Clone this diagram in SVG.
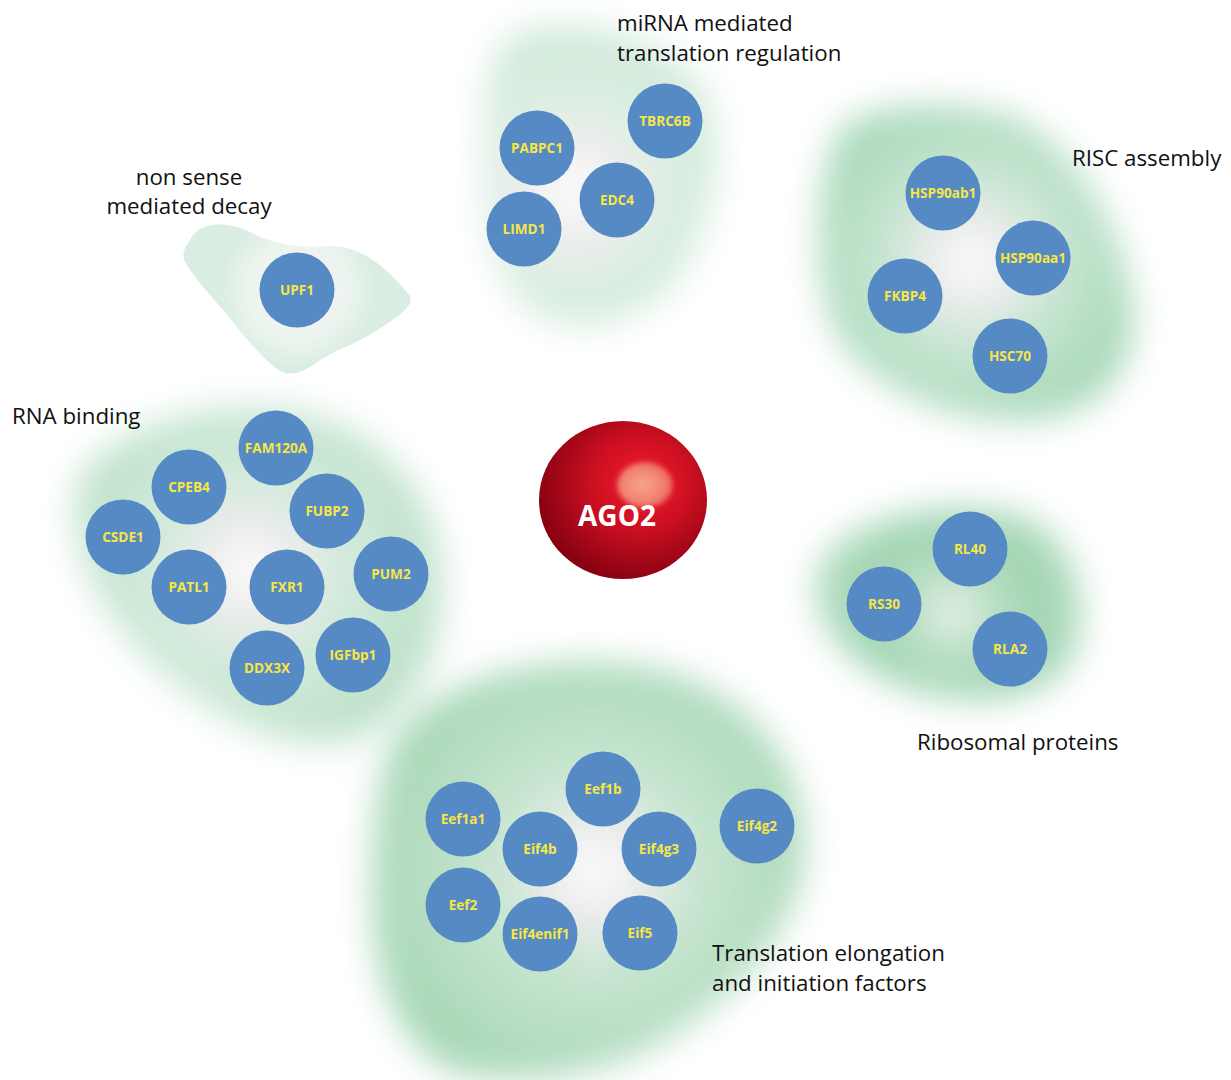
<svg xmlns="http://www.w3.org/2000/svg" width="1231" height="1080" viewBox="0 0 1231 1080">
<defs>
<style>
.lbl{font-family:"Open Sans","Liberation Sans",sans-serif;font-size:22.3px;fill:#111}
.n{fill:#558ac4}
.nt{font-family:"Open Sans","Liberation Sans",sans-serif;font-size:13.6px;font-weight:700;fill:#f7e646;text-anchor:middle}
</style>
<filter id="blur" x="-30%" y="-30%" width="160%" height="160%"><feGaussianBlur stdDeviation="17"/></filter>
<filter id="blurS" x="-50%" y="-50%" width="200%" height="200%"><feGaussianBlur stdDeviation="2.5"/></filter>
<radialGradient id="gMir" gradientUnits="userSpaceOnUse" cx="575" cy="190" r="170">
<stop offset="0" stop-color="#ffffff"/><stop offset="0.3" stop-color="#ececec"/><stop offset="0.55" stop-color="#dcefe3"/><stop offset="1" stop-color="#cbe7d5"/>
</radialGradient>
<radialGradient id="gRisc" gradientUnits="userSpaceOnUse" cx="972" cy="262" r="170">
<stop offset="0" stop-color="#ffffff"/><stop offset="0.25" stop-color="#ebebeb"/><stop offset="0.5" stop-color="#c8e6d2"/><stop offset="1" stop-color="#a7d8b8"/>
</radialGradient>
<radialGradient id="gRna" gradientUnits="userSpaceOnUse" cx="250" cy="570" r="190">
<stop offset="0" stop-color="#ffffff"/><stop offset="0.25" stop-color="#ebebeb"/><stop offset="0.5" stop-color="#d2eadb"/><stop offset="1" stop-color="#bde1c9"/>
</radialGradient>
<radialGradient id="gRib" gradientUnits="userSpaceOnUse" cx="953" cy="613" r="140">
<stop offset="0" stop-color="#ffffff"/><stop offset="0.08" stop-color="#e8ece9"/><stop offset="0.2" stop-color="#c3e4cd"/><stop offset="0.6" stop-color="#9fd4b1"/><stop offset="1" stop-color="#b5ddc2"/>
</radialGradient>
<radialGradient id="gTr" gradientUnits="userSpaceOnUse" cx="595" cy="870" r="240">
<stop offset="0" stop-color="#ffffff"/><stop offset="0.2" stop-color="#ebebeb"/><stop offset="0.4" stop-color="#c9e6d2"/><stop offset="1" stop-color="#a4d6b4"/>
</radialGradient>
<radialGradient id="gNmd" gradientUnits="userSpaceOnUse" cx="298" cy="290" r="80">
<stop offset="0" stop-color="#f3f3f3"/><stop offset="0.6" stop-color="#edf4ef"/><stop offset="1" stop-color="#d9ede2"/>
</radialGradient>
<radialGradient id="gAgo" cx="0.6" cy="0.4" r="0.65" fx="0.62" fy="0.38">
<stop offset="0" stop-color="#f21a2e"/><stop offset="0.45" stop-color="#cc1021"/><stop offset="1" stop-color="#820010"/>
</radialGradient>
<radialGradient id="gHi" cx="0.45" cy="0.5" r="0.55">
<stop offset="0" stop-color="#f7a58f"/><stop offset="0.7" stop-color="#f28070"/><stop offset="1" stop-color="#ec5a50"/>
</radialGradient>
</defs>
<rect width="1231" height="1080" fill="#ffffff"/>

<g id="halos">
<path id="halo-mirna" filter="url(#blur)" fill="url(#gMir)" d="M515,35 C570,15 650,30 700,85 C730,140 715,220 680,275 C640,325 580,340 530,310 C490,280 478,210 482,140 C485,90 490,50 515,35 Z"/>
<path id="halo-risc" filter="url(#blur)" fill="url(#gRisc)" d="M845,125 C890,100 970,100 1020,120 C1075,150 1120,220 1132,300 C1140,370 1100,415 1030,420 C960,425 880,395 840,340 C810,290 812,170 845,125 Z"/>
<path id="halo-rna" filter="url(#blur)" fill="url(#gRna)" d="M85,470 C130,420 220,400 290,410 C370,425 430,480 440,560 C448,640 420,720 350,740 C280,755 190,710 130,640 C85,590 60,515 85,470 Z"/>
<path id="halo-rib" filter="url(#blur)" fill="url(#gRib)" d="M835,545 C880,510 960,500 1020,515 C1075,535 1092,600 1075,655 C1055,700 980,710 910,690 C855,670 815,630 815,590 C815,570 822,555 835,545 Z"/>
<path id="halo-tr" filter="url(#blur)" fill="url(#gTr)" d="M415,715 C470,670 570,650 660,670 C750,695 805,760 805,850 C800,930 740,990 680,1030 C620,1075 520,1090 450,1070 C390,1040 370,960 372,880 C375,800 380,745 415,715 Z"/>
<path id="halo-nmd" fill="url(#gNmd)" d="M190,240 C198,222 225,220 250,232 C275,245 300,248 330,246 C360,246 385,265 410,296 C414,305 400,315 385,325 C365,340 340,348 320,360 C305,372 292,376 282,372 C265,362 245,338 225,312 C205,290 190,272 184,260 C182,252 186,246 190,240 Z"/>
</g>

<g id="labels">
<text class="lbl" x="189" y="185" text-anchor="middle">non sense</text>
<text class="lbl" x="189" y="214" text-anchor="middle">mediated decay</text>
<text class="lbl" x="617" y="31">miRNA mediated</text>
<text class="lbl" x="617" y="61">translation regulation</text>
<text class="lbl" x="1072" y="166">RISC assembly</text>
<text class="lbl" x="12" y="424">RNA binding</text>
<text class="lbl" x="917" y="750">Ribosomal proteins</text>
<text class="lbl" x="712" y="961">Translation elongation</text>
<text class="lbl" x="712" y="991">and initiation factors</text>
</g>

<g id="connectors"></g>

<g id="AGO2">
<ellipse cx="623" cy="500" rx="84" ry="79" fill="url(#gAgo)"/>
<ellipse cx="645" cy="485" rx="28" ry="23" fill="url(#gHi)" filter="url(#blurS)"/>
<text x="617" y="526" font-family="'Open Sans','Liberation Sans',sans-serif" font-size="28" font-weight="700" fill="#ffffff" text-anchor="middle">AGO2</text>
</g>

<g id="UPF1"><circle class="n" cx="297" cy="290" r="37.5"/><text class="nt" x="297" y="295">UPF1</text></g>
<g id="PABPC1"><circle class="n" cx="537" cy="148" r="37.5"/><text class="nt" x="537" y="153">PABPC1</text></g>
<g id="TBRC6B"><circle class="n" cx="665" cy="121" r="37.5"/><text class="nt" x="665" y="126">TBRC6B</text></g>
<g id="EDC4"><circle class="n" cx="617" cy="200" r="37.5"/><text class="nt" x="617" y="205">EDC4</text></g>
<g id="LIMD1"><circle class="n" cx="524" cy="229" r="37.5"/><text class="nt" x="524" y="234">LIMD1</text></g>
<g id="HSP90ab1"><circle class="n" cx="943" cy="193" r="37.5"/><text class="nt" x="943" y="198">HSP90ab1</text></g>
<g id="HSP90aa1"><circle class="n" cx="1033" cy="258" r="37.5"/><text class="nt" x="1033" y="263">HSP90aa1</text></g>
<g id="FKBP4"><circle class="n" cx="905" cy="296" r="37.5"/><text class="nt" x="905" y="301">FKBP4</text></g>
<g id="HSC70"><circle class="n" cx="1010" cy="356" r="37.5"/><text class="nt" x="1010" y="361">HSC70</text></g>
<g id="FAM120A"><circle class="n" cx="276" cy="448" r="37.5"/><text class="nt" x="276" y="453">FAM120A</text></g>
<g id="CPEB4"><circle class="n" cx="189" cy="487" r="37.5"/><text class="nt" x="189" y="492">CPEB4</text></g>
<g id="FUBP2"><circle class="n" cx="327" cy="511" r="37.5"/><text class="nt" x="327" y="516">FUBP2</text></g>
<g id="CSDE1"><circle class="n" cx="123" cy="537" r="37.5"/><text class="nt" x="123" y="542">CSDE1</text></g>
<g id="PATL1"><circle class="n" cx="189" cy="587" r="37.5"/><text class="nt" x="189" y="592">PATL1</text></g>
<g id="FXR1"><circle class="n" cx="287" cy="587" r="37.5"/><text class="nt" x="287" y="592">FXR1</text></g>
<g id="PUM2"><circle class="n" cx="391" cy="574" r="37.5"/><text class="nt" x="391" y="579">PUM2</text></g>
<g id="IGFbp1"><circle class="n" cx="353" cy="655" r="37.5"/><text class="nt" x="353" y="660">IGFbp1</text></g>
<g id="DDX3X"><circle class="n" cx="267" cy="668" r="37.5"/><text class="nt" x="267" y="673">DDX3X</text></g>
<g id="RL40"><circle class="n" cx="970" cy="549" r="37.5"/><text class="nt" x="970" y="554">RL40</text></g>
<g id="RS30"><circle class="n" cx="884" cy="604" r="37.5"/><text class="nt" x="884" y="609">RS30</text></g>
<g id="RLA2"><circle class="n" cx="1010" cy="649" r="37.5"/><text class="nt" x="1010" y="654">RLA2</text></g>
<g id="Eef1b"><circle class="n" cx="603" cy="789" r="37.5"/><text class="nt" x="603" y="794">Eef1b</text></g>
<g id="Eef1a1"><circle class="n" cx="463" cy="819" r="37.5"/><text class="nt" x="463" y="824">Eef1a1</text></g>
<g id="Eif4b"><circle class="n" cx="540" cy="849" r="37.5"/><text class="nt" x="540" y="854">Eif4b</text></g>
<g id="Eif4g3"><circle class="n" cx="659" cy="849" r="37.5"/><text class="nt" x="659" y="854">Eif4g3</text></g>
<g id="Eif4g2"><circle class="n" cx="757" cy="826" r="37.5"/><text class="nt" x="757" y="831">Eif4g2</text></g>
<g id="Eef2"><circle class="n" cx="463" cy="905" r="37.5"/><text class="nt" x="463" y="910">Eef2</text></g>
<g id="Eif4enif1"><circle class="n" cx="540" cy="934" r="37.5"/><text class="nt" x="540" y="939">Eif4enif1</text></g>
<g id="Eif5"><circle class="n" cx="640" cy="933" r="37.5"/><text class="nt" x="640" y="938">Eif5</text></g>
</svg>
